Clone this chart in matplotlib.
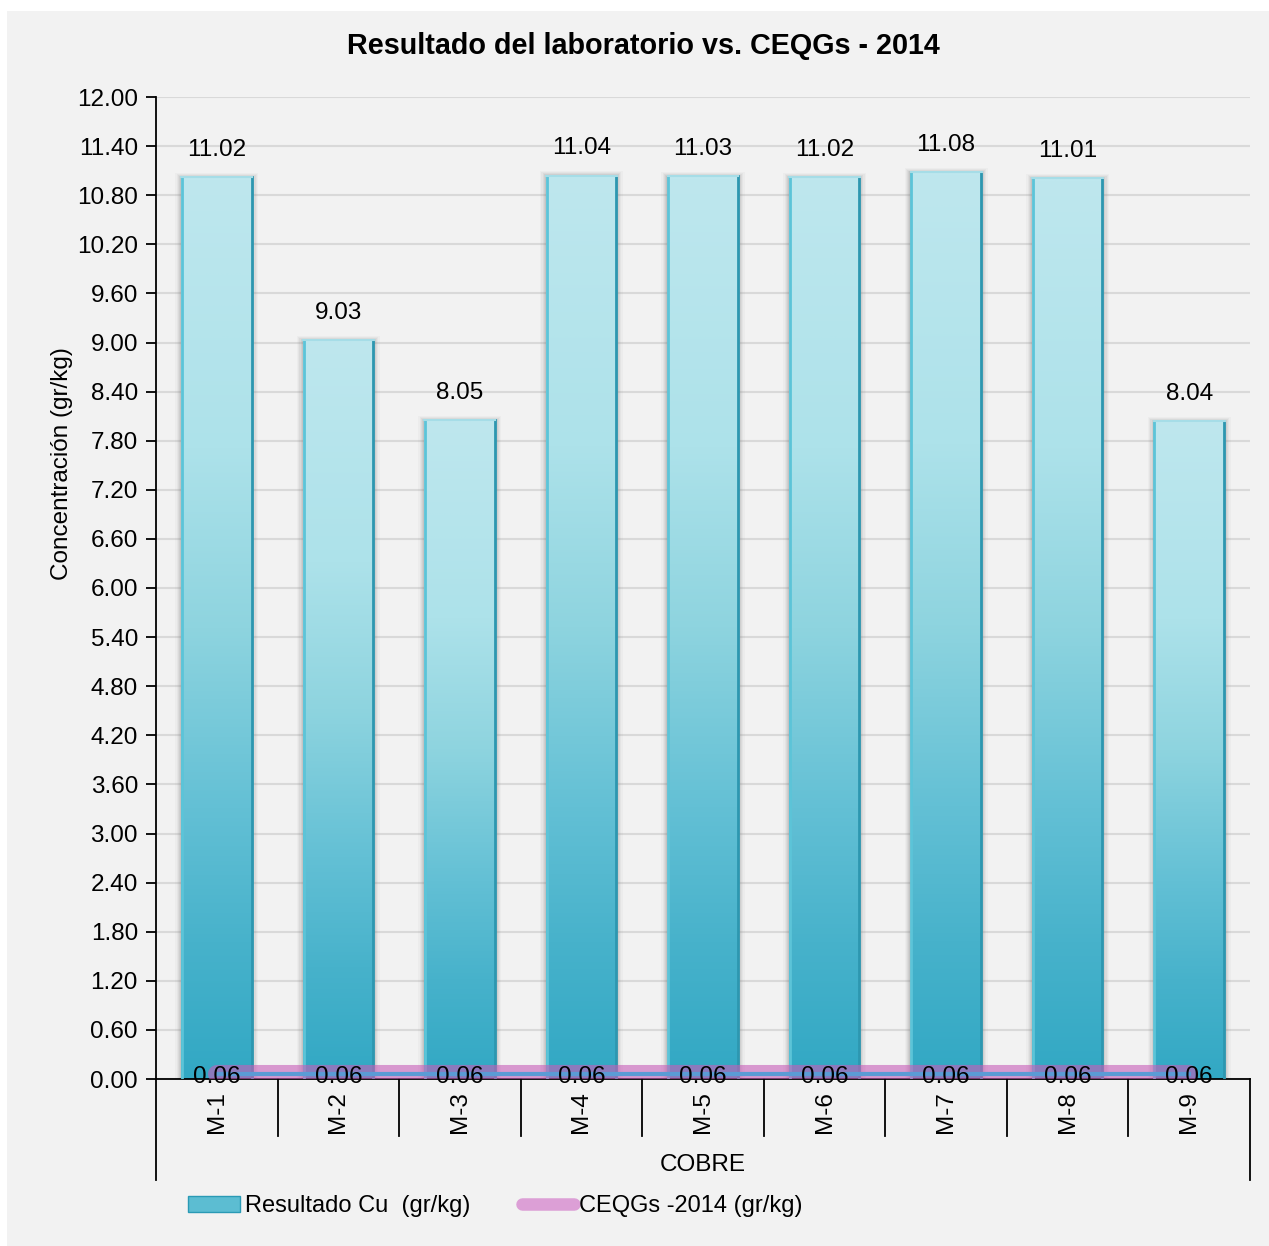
import matplotlib.pyplot as plt
import numpy as np
from matplotlib.colors import LinearSegmentedColormap
from matplotlib.lines import Line2D
from matplotlib.patches import Rectangle

plt.rcParams["font.family"] = ["Liberation Sans", "DejaVu Sans"]

# datos
muestras = ["M-1", "M-2", "M-3", "M-4", "M-5", "M-6", "M-7", "M-8", "M-9"]
resultado_cu = [11.02, 9.03, 8.05, 11.04, 11.03, 11.02, 11.08, 11.01, 8.04]
ceqgs_2014 = [0.06, 0.06, 0.06, 0.06, 0.06, 0.06, 0.06, 0.06, 0.06]
y_ticks = np.arange(0, 12.01, 0.6)

W, H = 1269, 1246
FS = 17.5
fig = plt.figure(figsize=(W / 100, H / 100), dpi=100, facecolor="white")

# fondo gris del área del gráfico
fig.patches.append(
    Rectangle((7 / W, 0), 1 - 7 / W, 1 - 11 / H, transform=fig.transFigure,
              facecolor="#f2f2f2", edgecolor="none", zorder=-10)
)

ax = fig.add_axes([156 / W, 1 - 1079 / H, (1250 - 156) / W, (1079 - 97) / H])
ax.set_facecolor("none")

x = np.arange(len(muestras))
ancho = 0.584

# degradado de las barras (arriba claro, abajo oscuro)
cmap = LinearSegmentedColormap.from_list(
    "ocean",
    [(0.0, "#bee7ee"), (0.3, "#ade2ea"), (0.5, "#8ed4df"),
     (0.7, "#63c0d5"), (0.85, "#47b2cb"), (1.0, "#32a8c4")],
)
grad = np.linspace(0, 1, 512).reshape(-1, 1)

barras = ax.bar(x, resultado_cu, width=ancho, color="none",
                edgecolor="none", zorder=3)

for b in barras:
    x0, w, h = b.get_x(), b.get_width(), b.get_height()
    # sombra
    for k, a in zip([0.1, 0.075, 0.055, 0.035, 0.02],
                    [0.04, 0.06, 0.08, 0.1, 0.12]):
        ax.add_patch(Rectangle((x0 - k * 0.5, 0), w + k, h + k * 0.5,
                               facecolor="#6f6f6f", edgecolor="none",
                               alpha=a, zorder=2))
    im = ax.imshow(grad, cmap=cmap, aspect="auto", interpolation="bilinear",
                   extent=(x0, x0 + w, 0, h), zorder=2.5)
    im.set_clip_path(b)
    # bordes: izquierdo claro, derecho oscuro
    ax.plot([x0 + 0.006, x0 + 0.006], [0, h], color="#5cc4d8", lw=2,
            zorder=3.2)
    ax.plot([x0 + w - 0.006, x0 + w - 0.006], [0, h], color="#2d97b0",
            lw=2, zorder=3.2)
    ax.plot([x0, x0 + w], [h, h], color="#a6dde7", lw=1.5, zorder=3.2)

for xi, v in zip(x, resultado_cu):
    ax.text(xi, v + 0.2, f"{v:.2f}", ha="center", va="bottom",
            fontsize=FS, color="black", zorder=6)

# línea CEQGs
ax.plot(x, ceqgs_2014, color="#c85cb8", lw=13, alpha=0.6,
        solid_capstyle="round", zorder=4)
ax.plot(x, ceqgs_2014, color="#5b9bd5", lw=3, zorder=4.5)
for xi, v in zip(x, ceqgs_2014):
    ax.text(xi, v - 0.03, f"{v:.2f}", ha="center", va="center",
            fontsize=FS, color="black", zorder=6)

ax.set_xlim(-0.5, len(muestras) - 0.5)
ax.set_ylim(0, 12)
ax.set_yticks(y_ticks)
ax.set_yticklabels([f"{t:.2f}" for t in y_ticks], fontsize=FS)
ax.yaxis.grid(True, color="#d9d9d9", lw=1.5, zorder=0)
ax.set_axisbelow(True)

for s in ["top", "right"]:
    ax.spines[s].set_visible(False)
ax.spines["left"].set_linewidth(1.3)
ax.spines["bottom"].set_linewidth(1.3)
ax.tick_params(axis="y", direction="out", length=7, width=1.3, pad=6)
ax.set_xticks([])

# etiquetas de categoría y separadores
for xi, m in zip(x, muestras):
    ax.text(xi, -0.012, m, rotation=90, ha="center", va="top",
            fontsize=FS, transform=ax.get_xaxis_transform())
for xb in np.arange(-0.5, len(muestras), 1.0):
    bajo = -0.1029 if xb in (-0.5, len(muestras) - 0.5) else -0.058
    ax.plot([xb, xb], [0, bajo], color="black", lw=1.3, clip_on=False,
            transform=ax.get_xaxis_transform())

ax.text(0.5, -0.088, "COBRE", ha="center", va="center", fontsize=FS,
        transform=ax.transAxes)

ax.set_ylabel("Concentración (gr/kg)", fontsize=FS)
ax.yaxis.set_label_coords(-0.076, 0.627)

fig.text(643 / W, 1 - 46 / H, "Resultado del laboratorio vs. CEQGs - 2014",
         ha="center", va="center", fontsize=20.7, fontweight="bold")

handles = [
    Rectangle((0, 0), 1, 1, facecolor="#5cbdd2", edgecolor="#2a9ab5"),
    Line2D([], [], color="#dc9fd6", lw=9, solid_capstyle="round"),
]
fig.legend(handles, ["Resultado Cu  (gr/kg)", "CEQGs -2014 (gr/kg)"],
           loc="center left", bbox_to_anchor=(188 / W, 1 - 1206 / H),
           ncol=2, frameon=False, fontsize=17, handlelength=2.2,
           handleheight=0.65, handletextpad=0.2, columnspacing=2.2,
           borderpad=0, borderaxespad=0)

fig.savefig("out.png", dpi=100, facecolor=fig.get_facecolor())
